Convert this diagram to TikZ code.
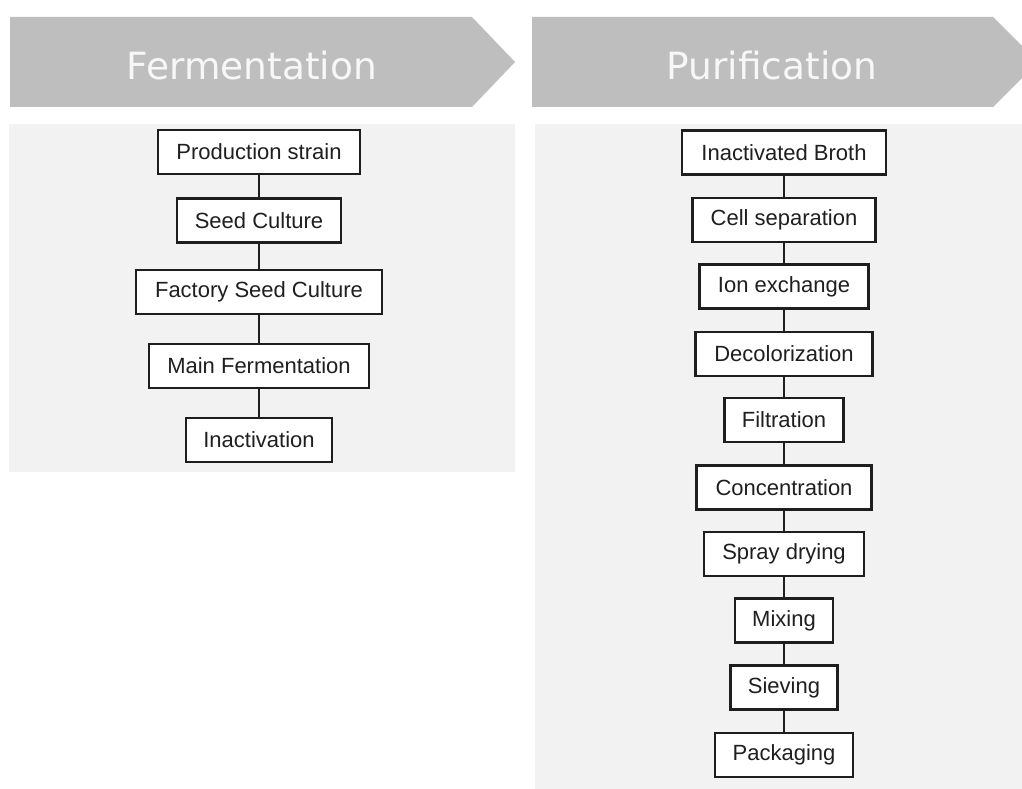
\documentclass[tikz,border=0pt]{standalone}
\usepackage{fontspec}
\setmainfont{Liberation Sans}
\newfontfamily\headfont{DejaVu Sans}
\definecolor{hdr}{HTML}{BEBEBE}
\definecolor{panel}{HTML}{F2F2F2}
\definecolor{hdrtext}{HTML}{F7F7F7}
\definecolor{boxline}{HTML}{1E1E1E}
\begin{document}
\begin{tikzpicture}[x=1pt,y=-1pt,
  stepbox/.style={draw=boxline, line width=2.2pt, fill=white, minimum height=44pt, inner sep=0pt,
    font=\fontsize{22}{24}\selectfont, text=black!88},
  link/.style={draw=boxline, line width=2.2pt},
  header/.style={fill=hdr, draw=none},
  headtext/.style={anchor=base, inner sep=0pt, text=hdrtext, font=\headfont\fontsize{37.5}{40}\selectfont},
  panelbg/.style={fill=panel, draw=none}]
\useasboundingbox (0,0) rectangle (1022,789);
\clip (0,0) rectangle (1022,789);
\fill[white] (0,0) rectangle (1022,789);
% headers
\path[header] (10,17) -- (472,17) -- (515,62) -- (472,107) -- (10,107) -- cycle;
\path[header] (532,17) -- (993,17) -- (1038,62) -- (993,107) -- (532,107) -- cycle;
\node[headtext] (hferm) at (252,80) {Fermentation};
\node[headtext] (hpur) at (772,80) {Purification};
% panels
\path[panelbg] (9,124) rectangle (515,472);
\path[panelbg] (535,124) rectangle (1022,789);
% fermentation steps
\node[stepbox, minimum width=202pt] (f1) at (259,152) {Production strain};
\node[stepbox, minimum width=164pt] (f2) at (259,220.5) {Seed Culture};
\node[stepbox, minimum width=246pt] (f3) at (259,292) {Factory Seed Culture};
\node[stepbox, minimum width=220pt] (f4) at (259,366) {Main Fermentation};
\node[stepbox, minimum width=146pt] (f5) at (259,440) {Inactivation};
% purification steps
\node[stepbox, minimum width=204pt] (p1) at (784,152.5) {Inactivated Broth};
\node[stepbox, minimum width=183pt] (p2) at (784,220) {Cell separation};
\node[stepbox, minimum width=169pt] (p3) at (784,286.5) {Ion exchange};
\node[stepbox, minimum width=177pt] (p4) at (784,354) {Decolorization};
\node[stepbox, minimum width=119pt] (p5) at (784,420) {Filtration};
\node[stepbox, minimum width=175pt] (p6) at (784,487.5) {Concentration};
\node[stepbox, minimum width=160pt] (p7) at (784,554) {Spray drying};
\node[stepbox, minimum width=98pt] (p8) at (784,620.5) {Mixing};
\node[stepbox, minimum width=107pt] (p9) at (784,687.5) {Sieving};
\node[stepbox, minimum width=138pt] (p10) at (784,755) {Packaging};
% connectors
\foreach \a/\b in {f1/f2,f2/f3,f3/f4,f4/f5,p1/p2,p2/p3,p3/p4,p4/p5,p5/p6,p6/p7,p7/p8,p8/p9,p9/p10}
  \draw[link] (\a.south) -- (\b.north);
\end{tikzpicture}
\end{document}
